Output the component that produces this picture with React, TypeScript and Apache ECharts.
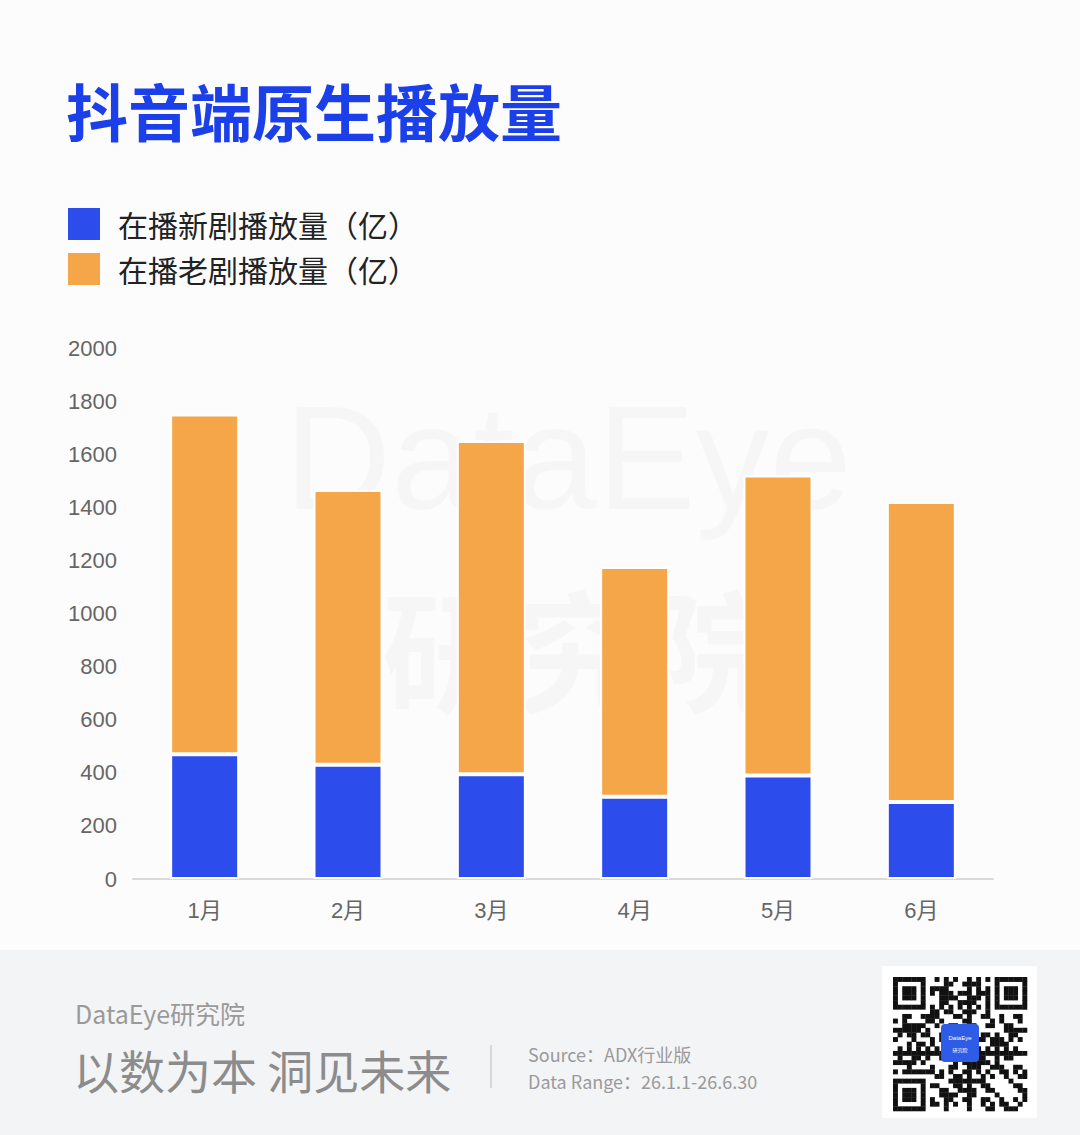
import React, { useEffect, useRef } from "react";
import * as echarts from "echarts";

const months = ["1月", "2月", "3月", "4月", "5月", "6月"];
const newDramaViews = [470, 430, 395, 310, 390, 290];
const oldDramaViews = [1280, 1035, 1255, 865, 1130, 1130];
const seriesNames = ["在播新剧播放量（亿）", "在播老剧播放量（亿）"];
const yMin = 0;
const yMax = 2000;
const yInterval = 200;

const BLUE = "#2c4deb";
const ORANGE = "#f5a649";
const CJK = '"Noto Sans CJK SC", "Noto Sans", sans-serif';
const NUM = '"Liberation Sans", Arial, "Noto Sans CJK SC", sans-serif';

function qrGraphics() {
  const n = 29;
  const ox = 893;
  const oy = 977;
  const s = 4.62;
  const els: any[] = [];
  const inFinder = (r: number, c: number) =>
    (r < 8 && c < 8) || (r < 8 && c >= n - 8) || (r >= n - 8 && c < 8);
  const finderOn = (r: number, c: number) => {
    const rr = r >= n - 8 ? r - (n - 7) : r;
    const cc = c >= n - 8 ? c - (n - 7) : c;
    if (rr < 0 || cc < 0 || rr > 6 || cc > 6) return false;
    if (rr === 0 || rr === 6 || cc === 0 || cc === 6) return true;
    if (rr >= 2 && rr <= 4 && cc >= 2 && cc <= 4) return true;
    return false;
  };
  for (let r = 0; r < n; r++) {
    for (let c = 0; c < n; c++) {
      let on = false;
      if (inFinder(r, c)) on = finderOn(r, c);
      else if (r === 6) on = c % 2 === 0;
      else if (c === 6) on = r % 2 === 0;
      else {
        const h = (r * 73 + c * 151 + r * c * 37 + ((r ^ c) * 11)) % 13;
        on = h < 6;
      }
      if (r >= 11 && r <= 17 && c >= 11 && c <= 17) on = false;
      if (on) {
        els.push({
          type: "rect",
          shape: { x: ox + c * s, y: oy + r * s, width: s + 0.3, height: s + 0.3 },
          style: { fill: "#111" },
          silent: true,
        });
      }
    }
  }
  els.push({
    type: "rect",
    shape: { x: 941, y: 1024, width: 38, height: 38, r: 4 },
    style: { fill: "#2f5ce6" },
  });
  els.push({
    type: "text",
    style: { x: 960, y: 1038, text: "DataEye", fill: "#fff", font: `6px ${NUM}`, align: "center", verticalAlign: "middle" },
  });
  els.push({
    type: "text",
    style: { x: 960, y: 1049, text: "研究院", fill: "#fff", font: `5px ${CJK}`, align: "center", verticalAlign: "middle" },
  });
  return els;
}

export default function App() {
  const ref = useRef<HTMLDivElement>(null);

  useEffect(() => {
    if (!ref.current) return;
    const chart = echarts.init(ref.current, undefined, { renderer: "svg" });
    const option: any = {
      animation: false,
      backgroundColor: "#fcfcfd",
      title: {
        text: "抖音端原生播放量",
        left: 66,
        top: 79,
        padding: 0,
        textStyle: { fontFamily: CJK, fontSize: 62, fontWeight: "bold", color: "#1b3fe8" },
      },
      legend: {
        orient: "vertical",
        left: 68,
        top: 208,
        padding: 0,
        itemWidth: 32,
        itemHeight: 32,
        itemGap: 13,
        icon: "rect",
        itemStyle: { borderWidth: 0 },
        textStyle: { fontFamily: CJK, fontSize: 30, color: "#222", lineHeight: 32, padding: [0, 0, 0, 13] },
        data: seriesNames,
      },
      grid: { left: 133, right: 87, top: 348, bottom: 256, containLabel: false },
      xAxis: {
        type: "category",
        data: months,
        axisLine: { lineStyle: { color: "#d9d9d9", width: 2 } },
        axisTick: { show: false },
        axisLabel: { color: "#666", fontSize: 22, fontFamily: NUM, margin: 20 },
      },
      yAxis: {
        type: "value",
        min: yMin,
        max: yMax,
        interval: yInterval,
        axisLine: { show: false },
        axisTick: { show: false },
        splitLine: { show: false },
        axisLabel: {
          color: "#666",
          fontSize: 22,
          fontFamily: NUM,
          margin: 16,
          formatter: (v: number) => String(v),
        },
      },
      series: [
        {
          name: seriesNames[0],
          type: "bar",
          stack: "total",
          data: newDramaViews,
          barWidth: 69,
          itemStyle: { color: BLUE, borderColor: "#ffffff", borderWidth: 2 },
        },
        {
          name: seriesNames[1],
          type: "bar",
          stack: "total",
          data: oldDramaViews,
          barWidth: 69,
          itemStyle: { color: ORANGE, borderColor: "#ffffff", borderWidth: 2 },
        },
      ],
      graphic: [
        {
          type: "text",
          z: 0,
          silent: true,
          style: {
            x: 568,
            y: 457,
            text: "DataEye",
            fill: "rgba(0,0,0,0.022)",
            font: `148px ${NUM}`,
            align: "center",
            verticalAlign: "middle",
          },
        },
        {
          type: "text",
          z: 0,
          silent: true,
          style: {
            x: 580,
            y: 645,
            text: "研究院",
            fill: "rgba(0,0,0,0.022)",
            font: `bold 132px ${CJK}`,
            align: "center",
            verticalAlign: "middle",
          },
        },
        {
          type: "rect",
          z: 0,
          silent: true,
          shape: { x: 0, y: 950, width: 1080, height: 185 },
          style: { fill: "#f3f4f6" },
        },
        {
          type: "text",
          silent: true,
          style: { x: 75, y: 1013, text: "DataEye研究院", fill: "#9a9a9a", font: `25px ${CJK}`, verticalAlign: "middle" },
        },
        {
          type: "text",
          silent: true,
          style: { x: 73, y: 1069, text: "以数为本 洞见未来", fill: "#8c8c8c", font: `46px ${CJK}`, verticalAlign: "middle" },
        },
        {
          type: "line",
          silent: true,
          shape: { x1: 491, y1: 1045, x2: 491, y2: 1088 },
          style: { stroke: "#cfcfcf", lineWidth: 1.5 },
        },
        {
          type: "text",
          silent: true,
          style: { x: 528, y: 1054, text: "Source：ADX行业版", fill: "#9a9a9a", font: `18px ${CJK}`, verticalAlign: "middle" },
        },
        {
          type: "text",
          silent: true,
          style: { x: 528, y: 1081, text: "Data Range：26.1.1-26.6.30", fill: "#9a9a9a", font: `18px ${CJK}`, verticalAlign: "middle" },
        },
        {
          type: "rect",
          silent: true,
          shape: { x: 882, y: 966, width: 155, height: 152 },
          style: { fill: "#ffffff" },
        },
        ...qrGraphics(),
      ],
    };
    chart.setOption(option);
    return () => chart.dispose();
  }, []);

  return (
    <div
      ref={ref}
      style={{ position: "fixed", left: 0, top: 0, width: 1080, height: 1135 }}
    />
  );
}
